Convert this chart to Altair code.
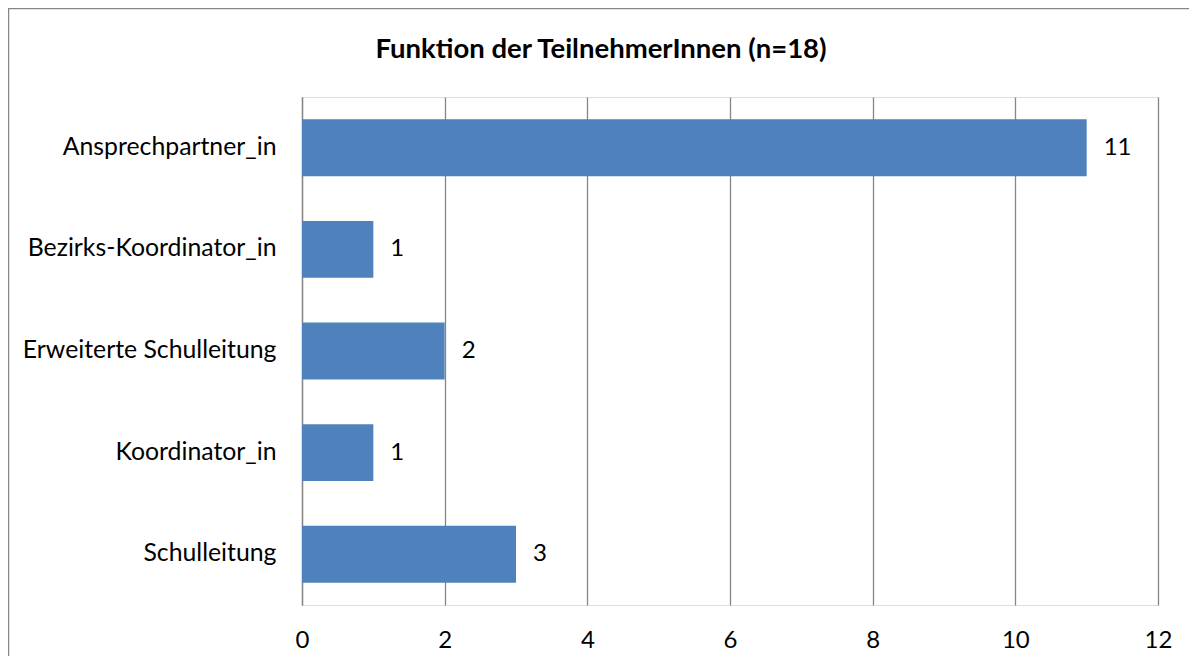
import altair as alt
import pandas as pd

categories = ["Ansprechpartner_in", "Bezirks-Koordinator_in", "Erweiterte Schulleitung", "Koordinator_in", "Schulleitung"]
values = [11, 1, 2, 1, 3]
x_ticks = [0, 2, 4, 6, 8, 10, 12]
title_text = "Funktion der TeilnehmerInnen (n=18)"

FONT = "Lato"
FS = 24
df = pd.DataFrame({"cat": categories, "val": values})

W, H = 856, 508
PL, PT, PR, PB = 294, 89, 31, 51

base = alt.Chart(df)

bars = base.mark_bar(color="#4F81BD").encode(
    x=alt.X("val:Q", scale=alt.Scale(domain=[0, 12], nice=False),
            axis=alt.Axis(values=x_ticks, title=None, grid=True, gridColor="#868686",
                          gridWidth=1.3, ticks=False, domain=False, labelFontSize=FS,
                          labelFont=FONT, labelColor="#000000", labelPadding=23,
                          labelFlush=False, format="d")),
    y=alt.Y("cat:N", sort=categories,
            scale=alt.Scale(paddingInner=0.44, paddingOuter=0.22),
            axis=alt.Axis(title=None, ticks=False, domain=True, domainColor="#868686",
                          domainWidth=1.3, labelFontSize=24.8, labelFont=FONT,
                          labelColor="#000000", labelPadding=26, labelLimit=400)),
)

labels = base.mark_text(align="left", baseline="middle", dx=17, fontSize=FS,
                        font=FONT, color="#000000").encode(
    x="val:Q", y=alt.Y("cat:N", sort=categories), text="val:Q")

title_df = pd.DataFrame({"t": [title_text]})
title = alt.Chart(title_df).mark_text(fontSize=27.5, fontWeight="bold", font=FONT,
                                      color="#000000", align="center", baseline="middle").encode(
    x=alt.value(299), y=alt.value(-47), text="t:N")

border = alt.Chart(pd.DataFrame({"a": [0]})).mark_rect(fill=None, stroke="#868686", strokeWidth=1.5).encode(
    x=alt.value(-293.5), x2=alt.value(1000), y=alt.value(-88.5), y2=alt.value(800))

chart = alt.layer(border, bars, labels, title).properties(
    width=W, height=H,
    autosize=alt.AutoSizeParams(type="none"),
    padding={"left": PL, "top": PT, "right": PR, "bottom": PB},
).configure_view(stroke=None).configure(background="#ffffff")

chart.save("out.html", embed_options={"renderer": "svg", "actions": False})
